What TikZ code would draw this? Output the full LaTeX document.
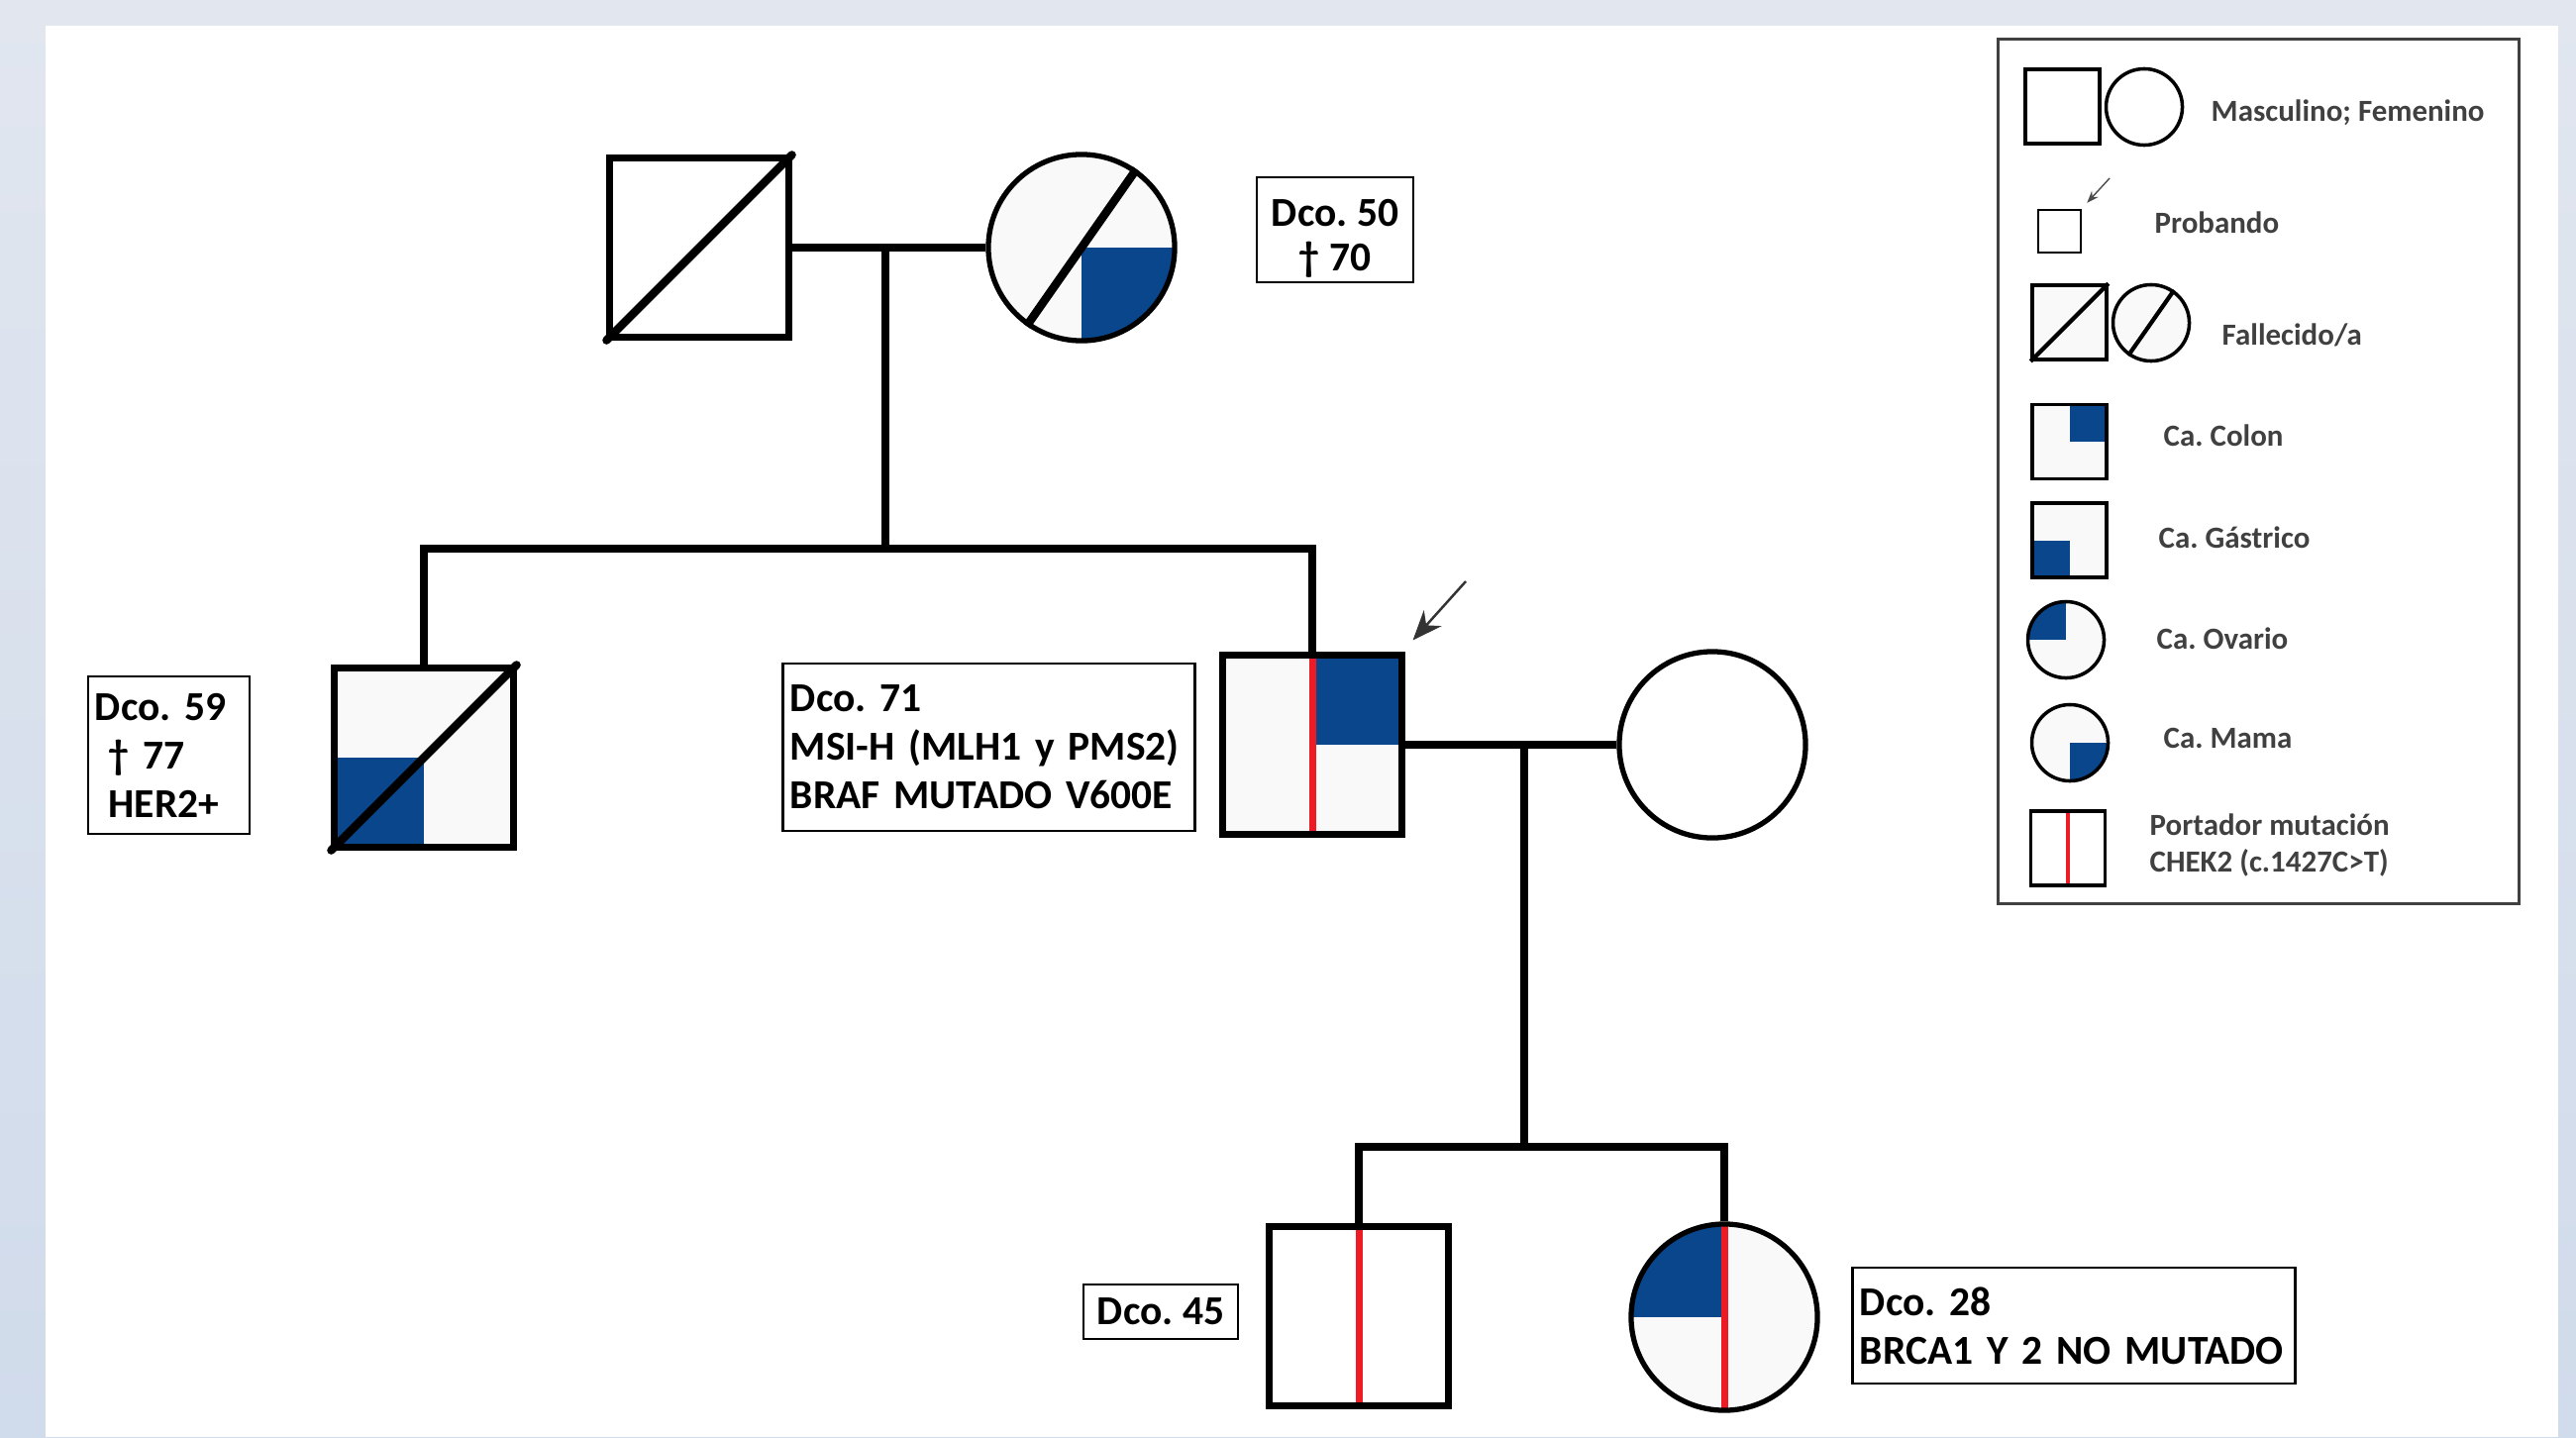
\documentclass[tikz,border=0pt]{standalone}
\usepackage{fontspec}
\setmainfont{Carlito}
\usetikzlibrary{arrows.meta}
\frenchspacing
\definecolor{cablue}{RGB}{10,70,140}
\definecolor{cared}{RGB}{237,28,36}
\definecolor{shapefill}{RGB}{249,249,249}
\definecolor{bgtop}{RGB}{225,230,239}
\definecolor{bgbot}{RGB}{208,219,235}
\definecolor{legtext}{RGB}{64,64,64}
\newcommand\pqd[1]{\fill[cablue] (path picture bounding box.center) rectangle (path picture bounding box.#1);}
\newcommand\pcar[1]{\draw[cared, line width=#1] (path picture bounding box.north) -- (path picture bounding box.south);}
\tikzset{
  conn/.style={line width=2.3pt},
  diag/.style={line width=2.4pt, line cap=round},
  male/.style={rectangle, draw, line width=2pt, minimum size=1.8cm, inner sep=0pt, fill=shapefill},
  female/.style={circle, draw, line width=1.5pt, minimum size=1.88cm, inner sep=0pt, fill=shapefill},
  lmale/.style={rectangle, draw, line width=1pt, minimum size=0.75cm, inner sep=0pt, fill=shapefill},
  lfemale/.style={circle, draw, line width=1pt, minimum size=0.77cm, inner sep=0pt, fill=shapefill},
  pp/.style={path picture={#1}},
  infobox/.style={draw, line width=0.8pt, fill=white, inner xsep=0.07cm, inner ysep=0pt, font=\bfseries\fontsize{11.8}{13.9}\selectfont, align=left},
  legtxt/.style={anchor=base west, inner sep=0pt, text=legtext, font=\bfseries\fontsize{8.8}{10.8}\selectfont},
}
\begin{document}
\begin{tikzpicture}[x=0.01cm,y=-0.01cm]
\useasboundingbox (0,0) rectangle (2601,1451);
\shade[top color=bgtop, bottom color=bgbot] (0,0) rectangle (2601,1451);
\fill[white] (46,26) rectangle (2583,1451);

% individuals
\node[male, fill=white] (gf) at (706,250) {};
\node[female, pp={\pqd{south east}}] (gm) at (1092,250) {};
\node[male, pp={\pqd{south west}}] (un) at (428,765) {};
\node[male, pp={\pqd{north east}\pcar{2pt}}] (pb) at (1325,752) {};
\node[female, fill=white] (wf) at (1729,752) {};
\node[male, fill=white, pp={\pcar{2pt}}] (sn) at (1372,1329) {};
\node[female, pp={\pqd{north west}\pcar{2pt}}] (dt) at (1741,1330) {};

% deceased marks
\draw[diag] (gf.south west) -- (gf.north east);
\draw[diag, line cap=butt] (gm.235) -- (gm.55);
\draw[diag] (un.south west) -- (un.north east);

% connectors
\coordinate (s1) at (894,554);
\coordinate (s2) at (1539,1158);
\draw[conn] (gf.east) -- (gm.west);
\draw[conn] (gf.east -| s1) -- (s1);
\draw[conn] (un.north) -- (un.north |- s1) -- (pb.north |- s1) -- (pb.north);
\draw[conn] (pb.east) -- (wf.west);
\draw[conn] (pb.east -| s2) -- (s2);
\draw[conn] (sn.north) -- (sn.north |- s2) -- (dt.north |- s2) -- (dt.north);

% proband arrow
\coordinate (pa) at (1480,587);
\draw[-{Stealth[length=0.3cm,width=0.24cm]}, line width=0.7pt, black!80] (pa) -- ([shift={(8,-12)}]pb.north east);

% info boxes
\node[infobox, align=center, minimum width=1.58cm, minimum height=1.06cm, font=\bfseries\fontsize{11.8}{12.8}\selectfont] (gml) at (1348,232) {\rule{0pt}{13pt}Dco. 50\\† 70};
\node[infobox, text width=1.49cm, minimum height=1.59cm] (unl) at (170.5,762.5) {Dco. 59\\~† 77\\~HER2+};
\node[infobox, text width=4.01cm, minimum height=1.69cm] (pbl) at (998.5,754.5) {Dco. 71\\MSI-H (MLH1 y PMS2)\\BRAF MUTADO V600E};
\node[infobox, align=center, minimum width=1.56cm, minimum height=0.55cm] (snl) at (1172,1324.5) {Dco. 45};
\node[infobox, text width=4.32cm, minimum height=1.17cm] (dtl) at (2094,1338.5) {Dco. 28\\BRCA1 Y 2 NO MUTADO};

% legend
\node[draw=black!75, line width=0.9pt, minimum width=5.25cm, minimum height=8.72cm, inner sep=0pt] (lg) at (2280.5,476) {};
\node[lmale, fill=white] (l1s) at (2082.5,107.5) {};
\node[lfemale, fill=white] (l1c) at (2165,108) {};
\node[lmale, fill=white, minimum size=0.43cm, line width=0.7pt] (l2s) at (2079.5,233.5) {};
\coordinate (l2a) at (2130,180);
\draw[-{Stealth[length=0.12cm,width=0.09cm]}, line width=0.4pt, black!70] (l2a) -- ([shift={(5,-6)}]l2s.north east);
\node[lmale] (l3s) at (2089.5,325.5) {};
\draw[line width=1.2pt] (l3s.south west) -- (l3s.north east);
\node[lfemale] (l3c) at (2172,326) {};
\draw[line width=1.2pt] (l3c.235) -- (l3c.55);
\node[lmale, pp={\pqd{north east}}] (l4) at (2089.5,446) {};
\node[lmale, pp={\pqd{south west}}] (l5) at (2089.5,545.5) {};
\node[lfemale, pp={\pqd{north west}}] (l6) at (2086,646) {};
\node[lfemale, pp={\pqd{south east}}] (l7) at (2090,750) {};
\node[lmale, fill=white, pp={\pcar{1pt}}] (l8) at (2088,856.5) {};

\node[legtxt] (t1) at (2232,122) {Masculino; Femenino};
\node[legtxt] (t2) at (2175,235) {Probando};
\node[legtxt] (t3) at (2243,348) {Fallecido/a};
\node[legtxt] (t4) at (2184,450) {Ca. Colon};
\node[legtxt] (t5) at (2179,553) {Ca. Gástrico};
\node[legtxt] (t6) at (2177,655) {Ca. Ovario};
\node[legtxt] (t7) at (2184,755) {Ca. Mama};
\node[legtxt] (t8) at (2170,843) {\begin{tabular}[t]{@{}l@{}}Portador mutación\\CHEK2 (c.1427C>T)\end{tabular}};
\end{tikzpicture}
\end{document}
